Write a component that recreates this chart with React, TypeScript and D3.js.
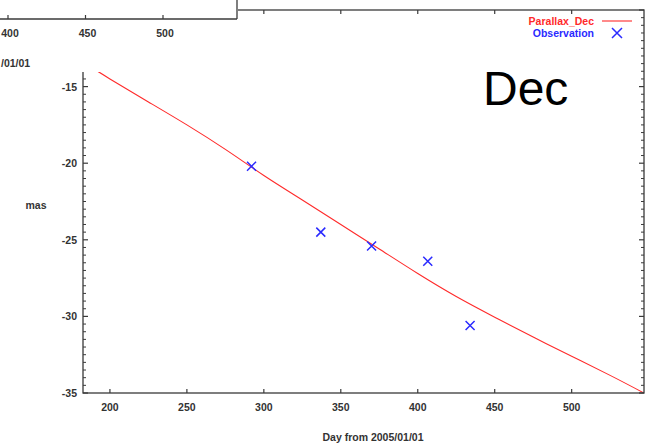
import React from "react";
import * as d3 from "d3";

const curveDays = [182.5, 200, 225, 250, 275, 300, 325, 350, 375, 400, 425, 450, 475, 500, 525, 547];
const curveValues = [-13.4, -14.5, -16.0, -17.5, -19.1, -20.8, -22.4, -24.0, -25.6, -27.2, -28.7, -30.05, -31.35, -32.6, -33.85, -35.0];

const obsDays = [292, 337, 370, 406.5, 434];
const obsValues = [-20.2, -24.5, -25.4, -26.4, -30.6];

const xTicks = [200, 250, 300, 350, 400, 450, 500];
const yTicks = [-35, -30, -25, -20, -15, -10];
const insetTicks = [400, 450, 500];

const W = 650;
const H = 444;
const L = 83, R = 644, T = 10, B = 393;
const FONT = "'Liberation Sans', Arial, Helvetica, sans-serif";
const RED = "#ff2a2a";
const BLUE = "#2a2aff";
const AXIS = "#3a3a3a";
const TXT = "#333";

function Cross({ cx, cy, s }: { cx: number; cy: number; s: number }) {
  return (
    <path
      d={`M${cx - s},${cy - s}L${cx + s},${cy + s}M${cx - s},${cy + s}L${cx + s},${cy - s}`}
      stroke={BLUE}
      strokeWidth={1.5}
      fill="none"
    />
  );
}

export default function App() {
  const x = d3.scaleLinear().domain([182.5, 547]).range([L, R]);
  const y = d3.scaleLinear().domain([-35, -10]).range([B, T]);
  const insetX = d3.scaleLinear().domain([400, 500]).range([8, 163]);

  const line = d3
    .line<number>()
    .x((_, i) => x(curveDays[i]))
    .y((d) => y(d))
    .curve(d3.curveNatural);

  const minorY = d3.range(-35, -10 + 0.001, 0.5).filter((v) => Math.abs(v % 5) > 0.01);

  return (
    <svg
      width={W}
      height={H}
      style={{ position: "absolute", left: 0, top: 0, background: "#fff" }}
      fontFamily={FONT}
    >
      <rect x={0} y={0} width={W} height={H} fill="#fff" />
      <defs>
        <clipPath id="plotclip">
          <rect x={L} y={T} width={R - L} height={B - T} />
        </clipPath>
      </defs>

      {/* curve */}
      <path d={line(curveValues) || ""} fill="none" stroke={RED} strokeWidth={1.1} clipPath="url(#plotclip)" />

      {/* observations */}
      {obsDays.map((d, i) => (
        <Cross key={i} cx={x(d)} cy={y(obsValues[i])} s={4.5} />
      ))}

      {/* frame */}
      <rect x={L} y={T} width={R - L} height={B - T} fill="none" stroke={AXIS} strokeWidth={1.3} />

      {/* x ticks */}
      {xTicks.map((t) => (
        <g key={t}>
          <line x1={x(t)} x2={x(t)} y1={B} y2={B - 4} stroke={AXIS} strokeWidth={1.2} />
          <line x1={x(t)} x2={x(t)} y1={T} y2={T + 4} stroke={AXIS} strokeWidth={1.2} />
          <text x={x(t)} y={411} textAnchor="middle" fontSize={10.5} fontWeight="bold" fill={TXT}>
            {t}
          </text>
        </g>
      ))}

      {/* y ticks */}
      {yTicks.map((t) => (
        <g key={t}>
          <line x1={L} x2={L + 5} y1={y(t)} y2={y(t)} stroke={AXIS} strokeWidth={1.2} />
          <line x1={R} x2={R - 5} y1={y(t)} y2={y(t)} stroke={AXIS} strokeWidth={1.2} />
          <text x={77} y={y(t) + 4} textAnchor="end" fontSize={10.5} fontWeight="bold" fill={TXT}>
            {t}
          </text>
        </g>
      ))}
      {minorY.map((t) => (
        <g key={"m" + t}>
          <line x1={L} x2={L + 3} y1={y(t)} y2={y(t)} stroke={AXIS} strokeWidth={1} />
          <line x1={R} x2={R - 3} y1={y(t)} y2={y(t)} stroke={AXIS} strokeWidth={1} />
        </g>
      ))}

      {/* axis titles */}
      <text x={36} y={209} textAnchor="middle" fontSize={10.5} fontWeight="bold" fill={TXT}>
        mas
      </text>
      <text x={373} y={441} textAnchor="middle" fontSize={10.5} fontWeight="bold" fill={TXT}>
        Day from 2005/01/01
      </text>

      {/* legend */}
      <text x={594} y={25} textAnchor="end" fontSize={10.5} fontWeight="bold" fill={RED}>
        Parallax_Dec
      </text>
      <line x1={602} x2={632} y1={21} y2={21} stroke={RED} strokeWidth={1.1} />
      <text x={594} y={37} textAnchor="end" fontSize={10.5} fontWeight="bold" fill={BLUE}>
        Observation
      </text>
      <Cross cx={617} cy={33} s={5} />

      {/* big label */}
      <text x={483} y={105} fontSize={48} fill="#000">
        Dec
      </text>

      {/* inset from neighbouring chart */}
      <rect x={0} y={0} width={238} height={72} fill="#fff" />
      <line x1={0} x2={237} y1={19} y2={19} stroke={AXIS} strokeWidth={1.3} />
      <line x1={237} x2={237} y1={0} y2={19} stroke={AXIS} strokeWidth={1.3} />
      {insetTicks.map((t) => (
        <g key={"i" + t}>
          <line x1={insetX(t)} x2={insetX(t)} y1={19} y2={15} stroke={AXIS} strokeWidth={1.2} />
          <text x={insetX(t) + 2} y={37} textAnchor="middle" fontSize={10.5} fontWeight="bold" fill={TXT}>
            {t}
          </text>
        </g>
      ))}
      <text x={1} y={67} textAnchor="start" fontSize={10.5} fontWeight="bold" fill={TXT}>
        /01/01
      </text>
    </svg>
  );
}
